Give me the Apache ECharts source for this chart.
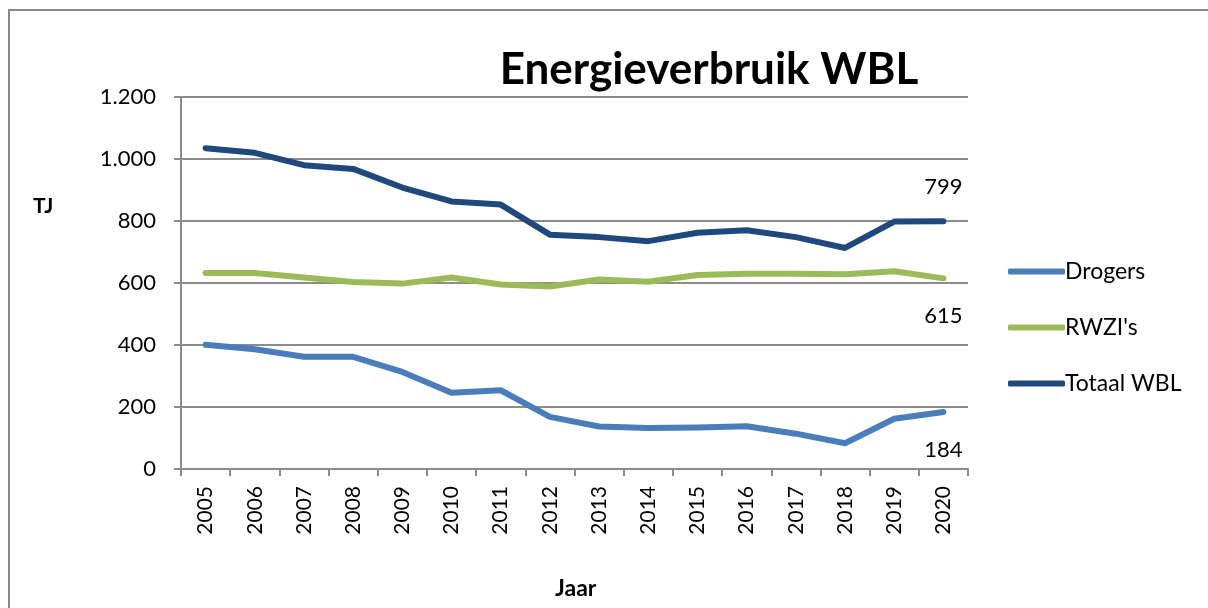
<!DOCTYPE html>
<html>
<head>
<meta charset="utf-8">
<script src="https://cdn.jsdelivr.net/npm/echarts@6/dist/echarts.min.js"></script>
<style>
  html, body { margin: 0; padding: 0; background: #fff; }
  #main { width: 1208px; height: 608px; }
</style>
</head>
<body>
<div id="main"></div>
<script>
  // jaren en waarden (TJ)
  var jaren = ['2005', '2006', '2007', '2008', '2009', '2010', '2011', '2012',
    '2013', '2014', '2015', '2016', '2017', '2018', '2019', '2020'];
  var drogers = [401, 386, 362, 362, 313, 246, 254, 168, 137, 132, 134, 138, 114, 83, 162, 184];
  var rwzis = [632, 632, 618, 603, 598, 618, 595, 589, 611, 604, 626, 630, 630, 628, 638, 615];
  var totaal = [1035, 1020, 980, 968, 908, 863, 853, 756, 748, 735, 762, 770, 748, 713, 798, 799];
  var yTicks = [0, 200, 400, 600, 800, 1000, 1200];

  var fnt = 'Lato, "Open Sans", sans-serif';

  function serie(naam, data, kleur, labelPos, labelOff) {
    return {
      name: naam,
      type: 'line',
      data: data.map(function (v, i) {
        if (i === data.length - 1) {
          return {
            value: v,
            label: {
              show: true, position: labelPos, offset: labelOff,
              fontSize: 22, color: '#000', fontFamily: fnt
            }
          };
        }
        return v;
      }),
      symbol: 'circle',
      symbolSize: 0,
      showSymbol: true,
      lineStyle: { width: 6, color: kleur, cap: 'round', join: 'round' },
      itemStyle: { color: kleur },
      animation: false
    };
  }

  var chart = echarts.init(document.getElementById('main'));
  chart.setOption({
    title: {
      text: 'Energieverbruik WBL',
      left: 704, top: 43, textAlign: 'center',
      textStyle: { fontSize: 44, fontWeight: 'bold', color: '#000', fontFamily: fnt }
    },
    graphic: [
      { type: 'rect', shape: { x: 9, y: 10, width: 1220, height: 620 },
        style: { fill: null, stroke: '#878787', lineWidth: 2 }, silent: true },
      { type: 'text', left: 33, top: 196,
        style: { text: 'TJ', font: 'bold 21px ' + fnt, fill: '#000' } },
      { type: 'text', left: 555, top: 577,
        style: { text: 'Jaar', font: 'bold 23px ' + fnt, fill: '#000' } }
    ],
    legend: {
      orient: 'vertical',
      left: 1003, top: 255,
      itemGap: 33,
      itemWidth: 57, itemHeight: 6,
      icon: 'roundRect',
      data: ['Drogers', "RWZI's", 'Totaal WBL'],
      textStyle: { fontSize: 23, color: '#000', fontFamily: fnt, padding: [0, 0, 0, -5] }
    },
    grid: { left: 181, right: 240, top: 97, bottom: 139 },
    xAxis: {
      type: 'category',
      data: jaren,
      boundaryGap: true,
      axisLine: { lineStyle: { color: '#8c8c8c', width: 2 } },
      axisTick: { show: true, length: 7, lineStyle: { color: '#8c8c8c', width: 2 } },
      axisLabel: { rotate: 90, margin: 17, fontSize: 21, color: '#000', fontFamily: fnt }
    },
    yAxis: {
      type: 'value',
      min: yTicks[0], max: yTicks[yTicks.length - 1], interval: 200,
      axisLine: { show: true, lineStyle: { color: '#8c8c8c', width: 2 } },
      axisTick: { show: true, length: 7, lineStyle: { color: '#8c8c8c', width: 2 } },
      splitLine: { lineStyle: { color: '#8c8c8c', width: 2 } },
      axisLabel: {
        margin: 25, fontSize: 22, color: '#000', fontFamily: fnt,
        formatter: function (v) { return v >= 1000 ? (v / 1000).toFixed(3) : String(v); }
      }
    },
    series: [
      serie('Drogers', drogers, '#4a7ebb', 'bottom', [0, 22]),
      serie("RWZI's", rwzis, '#9bbb59', 'bottom', [0, 22]),
      serie('Totaal WBL', totaal, '#1f497d', 'top', [0, -18])
    ]
  });
</script>
</body>
</html>
